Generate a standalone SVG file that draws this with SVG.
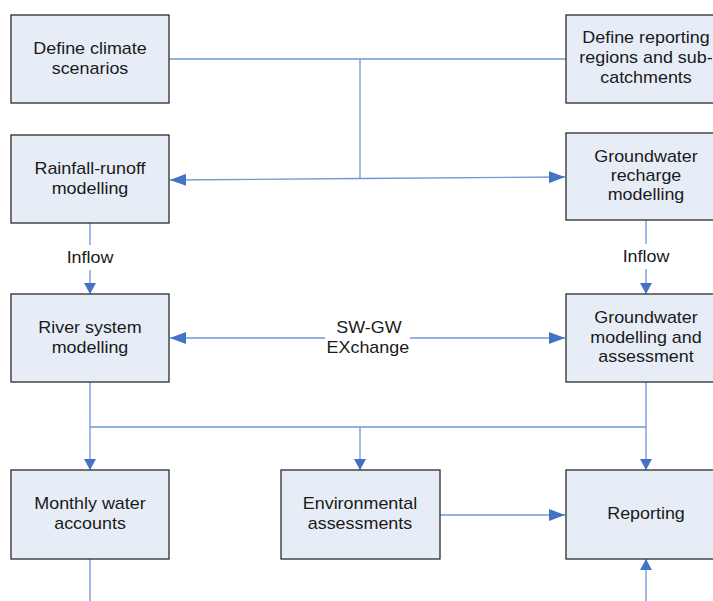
<svg xmlns="http://www.w3.org/2000/svg" width="713" height="601" viewBox="0 0 713 601">
<defs>
<style>
.box{fill:#E7EDF7;stroke:#2B2B2B;stroke-width:1.3}
.t{font-family:"Liberation Sans",Arial,sans-serif;font-size:16px;fill:#1A1A1A;text-anchor:middle}
.c{fill:none;stroke:#6F98D4;stroke-width:1.3}
</style>
<marker id="ah" markerUnits="userSpaceOnUse" markerWidth="18" markerHeight="12" refX="16" refY="6" orient="auto">
<path d="M0,0 L16,6 L0,12 Z" fill="#4472C4"/>
</marker>
<marker id="av" markerUnits="userSpaceOnUse" markerWidth="12" markerHeight="12" refX="11" refY="6" orient="auto">
<path d="M0,0 L11,6 L0,12 Z" fill="#4472C4"/>
</marker>
</defs>
<rect width="713" height="601" fill="#FFFFFF"/>
<g id="connectors">
<path class="c" d="M169,59 H566"/>
<path class="c" d="M360,59 V178.5"/>
<path class="c" d="M360,178.5 L170,180" marker-end="url(#ah)"/>
<path class="c" d="M360,178.5 L565,177" marker-end="url(#ah)"/>
<path class="c" d="M90,223 V245"/>
<path class="c" d="M90,270 V294" marker-end="url(#av)"/>
<path class="c" d="M646,220 V244"/>
<path class="c" d="M646,269 V294" marker-end="url(#av)"/>
<path class="c" d="M325,338 H170" marker-end="url(#ah)"/>
<path class="c" d="M410,338 H565" marker-end="url(#ah)"/>
<path class="c" d="M90,382 V470" marker-end="url(#av)"/>
<path class="c" d="M90,427 H646"/>
<path class="c" d="M360,427 V470" marker-end="url(#av)"/>
<path class="c" d="M646,382 V470" marker-end="url(#av)"/>
<path class="c" d="M440,515 H565" marker-end="url(#ah)"/>
<path class="c" d="M90,559 V601"/>
<path class="c" d="M646,601 V559" marker-end="url(#av)"/>
<g transform="translate(90 0) scale(1.12 1)"><text class="t" x="0" y="263">Inflow</text></g>
<g transform="translate(646 0) scale(1.12 1)"><text class="t" x="0" y="262">Inflow</text></g>
<g transform="translate(369 0) scale(1.12 1)"><text class="t" x="0" y="333">SW-GW</text>
<text class="t" x="-1" y="353">EXchange</text></g>
</g>
<g id="n-climate">
<rect class="box" x="11" y="15" width="158" height="88"/>
<g transform="translate(90 0) scale(1.12 1)"><text class="t" x="0" y="54">Define climate</text>
<text class="t" x="0" y="74">scenarios</text></g>
</g>
<g id="n-regions">
<rect class="box" x="566" y="15" width="158" height="88"/>
<g transform="translate(646 0) scale(1.12 1)"><text class="t" x="0" y="43">Define reporting</text>
<text class="t" x="0" y="63">regions and sub-</text>
<text class="t" x="0" y="83">catchments</text></g>
</g>
<g id="n-rainfall">
<rect class="box" x="11" y="135" width="158" height="88"/>
<g transform="translate(90 0) scale(1.12 1)"><text class="t" x="0" y="174">Rainfall-runoff</text>
<text class="t" x="0" y="194">modelling</text></g>
</g>
<g id="n-recharge">
<rect class="box" x="566" y="133" width="158" height="87"/>
<g transform="translate(646 0) scale(1.12 1)"><text class="t" x="0" y="162">Groundwater</text>
<text class="t" x="0" y="181">recharge</text>
<text class="t" x="0" y="200">modelling</text></g>
</g>
<g id="n-river">
<rect class="box" x="11" y="294" width="158" height="88"/>
<g transform="translate(90 0) scale(1.12 1)"><text class="t" x="0" y="333">River system</text>
<text class="t" x="0" y="353">modelling</text></g>
</g>
<g id="n-gwmodel">
<rect class="box" x="566" y="294" width="158" height="88"/>
<g transform="translate(646 0) scale(1.12 1)"><text class="t" x="0" y="323">Groundwater</text>
<text class="t" x="0" y="343">modelling and</text>
<text class="t" x="0" y="362">assessment</text></g>
</g>
<g id="n-monthly">
<rect class="box" x="11" y="470" width="158" height="89"/>
<g transform="translate(90 0) scale(1.12 1)"><text class="t" x="0" y="509">Monthly water</text>
<text class="t" x="0" y="529">accounts</text></g>
</g>
<g id="n-env">
<rect class="box" x="281" y="470" width="159" height="89"/>
<g transform="translate(360 0) scale(1.12 1)"><text class="t" x="0" y="509">Environmental</text>
<text class="t" x="0" y="529">assessments</text></g>
</g>
<g id="n-reporting">
<rect class="box" x="566" y="470" width="158" height="89"/>
<g transform="translate(646 0) scale(1.12 1)"><text class="t" x="0" y="519">Reporting</text></g>
</g>
</svg>
